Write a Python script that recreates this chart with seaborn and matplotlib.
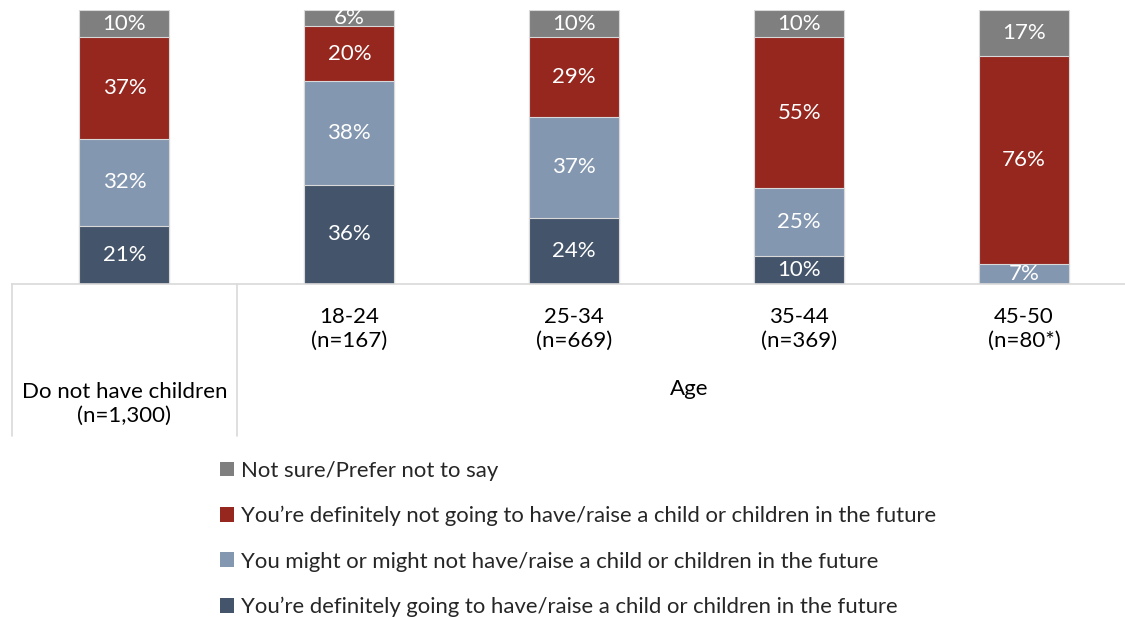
import matplotlib
matplotlib.use("Agg")
import matplotlib.pyplot as plt
from matplotlib.patches import Patch
from matplotlib.lines import Line2D
import seaborn as sns
import pandas as pd
import numpy as np

# Survey responses by group (percent of respondents)
groups = ["Do not have children\n(n=1,300)", "18-24\n(n=167)", "25-34\n(n=669)",
          "35-44\n(n=369)", "45-50\n(n=80*)"]
definitely_going = [21, 36, 24, 10, 0]
might_or_might_not = [32, 38, 37, 25, 7]
definitely_not = [37, 20, 29, 55, 76]
not_sure = [10, 6, 10, 10, 17]

series_names = [
    "You\u2019re definitely going to have/raise a child or children in the future",
    "You might or might not have/raise a child or children in the future",
    "You\u2019re definitely not going to have/raise a child or children in the future",
    "Not sure/Prefer not to say",
]
series_values = [definitely_going, might_or_might_not, definitely_not, not_sure]
series_colors = ["#44546a", "#8497b0", "#95271f", "#7f7f7f"]
group_caption = "Age"

sns.set_theme(style="white")
plt.rcParams["font.family"] = ["Lato", "DejaVu Sans"]

W, H = 1125, 617
fig = plt.figure(figsize=(W / 100, H / 100), dpi=100)
ax = fig.add_axes([12 / W, (H - 283.5) / H, 1113 / W, 273.5 / H])

# Long table with the running totals so each layer is drawn from its top edge
rows = []
for name, vals in zip(series_names, series_values):
    for g, v in zip(groups, vals):
        rows.append({"group": g, "series": name, "value": v})
df = pd.DataFrame(rows)
df["top"] = df.groupby("group", sort=False)["value"].cumsum()
df["mid"] = df["top"] - df["value"] / 2

# Draw tallest cumulative layer first so lower layers cover it
for name, color in reversed(list(zip(series_names, series_colors))):
    sub = df[df["series"] == name]
    sns.barplot(data=sub, x="group", y="top", order=groups, color=color,
                width=0.4, edgecolor="#d9d9d9", linewidth=0.8,
                saturation=1, ax=ax)

for _, r in df.iterrows():
    if r["value"] > 0:
        ax.text(groups.index(r["group"]), r["mid"], f"{r['value']:.0f}%",
                ha="center", va="center", color="white", fontsize=16)

ax.set_xlim(-0.5, 4.449)
ax.set_ylim(0, 100)
ax.set_xticks([])
ax.set_yticks([])
ax.set_xlabel("")
ax.set_ylabel("")
for s in ["top", "right", "left"]:
    ax.spines[s].set_visible(False)
ax.spines["bottom"].set_color("#d9d9d9")
ax.spines["bottom"].set_linewidth(1.2)

# Category table under the bars
trans = ax.get_xaxis_transform()
line_kw = dict(color="#d9d9d9", linewidth=1.2, transform=trans, clip_on=False)
ax.add_line(Line2D([-0.5, -0.5], [0, -152 / 273.5], **line_kw))
ax.add_line(Line2D([0.5, 0.5], [0, -152 / 273.5], **line_kw))

for i, g in enumerate(groups):
    yc = 404 if i == 0 else 329
    ax.text(i, -(yc - 283.5) / 273.5, g, transform=trans, ha="center",
            va="center", fontsize=16, color="#000000", linespacing=1.25)
ax.text(2.51, -(389 - 283.5) / 273.5, group_caption, transform=trans,
        ha="center", va="center", fontsize=16, color="#000000")

handles = [Patch(facecolor=c, edgecolor="none") for c in reversed(series_colors)]
fig.legend(handles, list(reversed(series_names)), loc="upper left",
           bbox_to_anchor=(211 / W, 1 - 452 / H), frameon=False,
           fontsize=15.9, handlelength=0.65, handleheight=0.65,
           handletextpad=0.3, labelspacing=1.14, borderaxespad=0)

fig.savefig("out.png", dpi=100)
